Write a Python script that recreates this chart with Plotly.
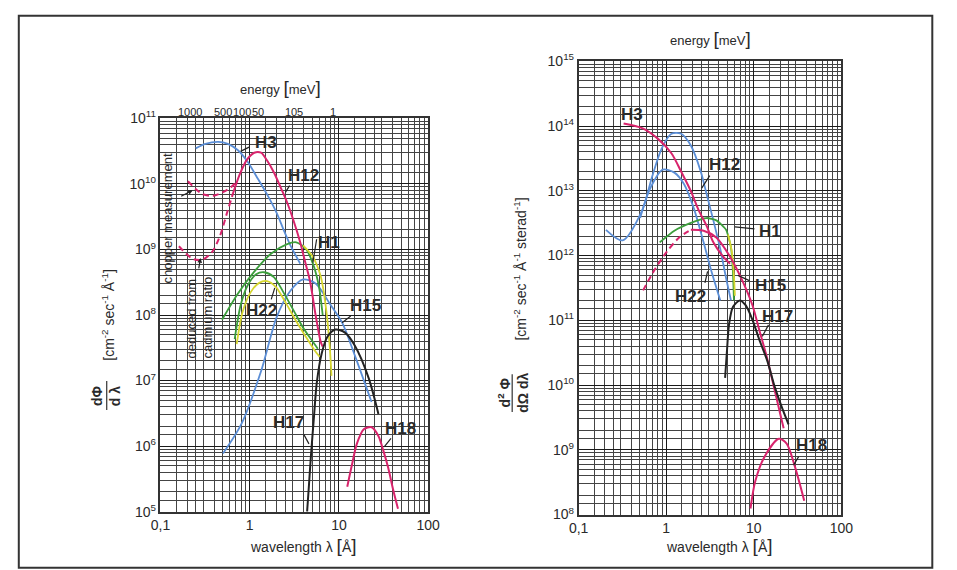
import math
import plotly.graph_objects as go

W, H = 957, 570

# ---------------- LEFT PANEL: flux dPhi/dlambda (wavelength in Angstrom) ----------------
L_H3_lam = [0.248, 0.319, 0.443, 0.570, 0.733, 0.944, 1.21, 1.56, 2.01, 2.40, 2.86, 3.68]
L_H3_val = [3.5e10, 4.1e10, 4.4e10, 4.1e10, 3.3e10, 2.2e10, 1.26e10, 7.0e9, 3.6e9, 2.0e9, 1.16e9, 6.1e8]

L_H12_lam = [0.646, 0.771, 0.921, 1.125, 1.34, 1.56, 1.87, 2.22, 2.59, 3.09, 3.68, 4.18, 4.74, 5.52, 6.25, 6.58]
L_H12_val = [7.0e9, 1.39e10, 2.3e10, 3.0e10, 3.0e10, 2.3e10, 1.5e10, 8.9e9, 5.5e9, 2.8e9, 1.29e9, 6.5e8, 3.3e8, 9.4e7, 3.9e7, 3.3e7]

L_CHOP_lam = [0.203, 0.248, 0.296, 0.390, 0.502, 0.615, 0.733]
L_CHOP_val = [1.10e10, 8.4e9, 7.0e9, 6.6e9, 7.5e9, 8.9e9, 1.13e10]

L_CD_lam = [0.161, 0.230, 0.296, 0.380, 0.466, 0.556, 0.646]
L_CD_val = [1.12e9, 7.2e8, 7.0e8, 9.2e8, 1.63e9, 3.6e9, 7.0e9]

L_H1_lam = [0.490, 0.733, 1.125, 1.73, 2.59, 3.33, 4.29, 5.11, 5.95, 6.58]
L_H1_val = [8.5e7, 2.1e8, 4.6e8, 8.6e8, 1.2e9, 1.29e9, 1.01e9, 6.1e8, 2.8e8, 1.0e8]
L_H1Y_lam = [3.97, 5.11, 6.25, 7.10, 7.85, 8.26]
L_H1Y_val = [1.16e9, 7.7e8, 3.9e8, 1.41e8, 3.6e7, 1.18e7]

L_H22G_lam = [0.679, 0.791, 0.944, 1.183, 1.449, 1.866, 2.40, 3.09, 3.97, 5.11, 5.80]
L_H22G_val = [4.3e7, 1.41e8, 2.8e8, 4.2e8, 4.5e8, 3.8e8, 2.2e8, 1.19e8, 6.4e7, 3.9e7, 3.05e7]
L_H22Y_lam = [0.715, 0.832, 1.018, 1.277, 1.563, 1.959, 2.52, 3.25, 4.29, 5.38, 6.10]
L_H22Y_val = [3.6e7, 1.11e8, 2.2e8, 3.1e8, 3.3e8, 2.7e8, 1.56e8, 8.5e7, 4.6e7, 2.85e7, 2.3e7]

L_H15_lam = [0.502, 0.811, 1.343, 2.01, 2.86, 3.97, 5.52, 7.85, 10.9, 15.1, 23.2]
L_H15_val = [7.7e5, 2.2e6, 1.4e7, 9.4e7, 2.35e8, 3.5e8, 3.0e8, 1.51e8, 7.6e7, 2.4e7, 4.7e6]

L_H17_lam = [4.40, 4.62, 4.86, 5.25, 5.65, 6.41, 7.46, 9.14, 11.7, 15.1, 21.5, 27.7]
L_H17_val = [1.0e5, 2.6e5, 7.2e5, 2.8e6, 9.3e6, 2.6e7, 4.7e7, 6.0e7, 5.4e7, 3.4e7, 1.1e7, 3.1e6]

L_H18_lam = [12.4, 14.0, 15.9, 19.0, 23.2, 27.7, 31.4, 35.6, 40.4, 45.9]
L_H18_val = [2.4e5, 5.2e5, 1.09e6, 1.81e6, 1.94e6, 1.43e6, 8.6e5, 4.7e5, 2.2e5, 1.11e5]

# ---------------- RIGHT PANEL: brightness d2Phi/dOmega dlambda ----------------
R_H3_lam = [0.326, 0.531, 0.800, 1.146, 1.48, 1.91, 2.35, 2.89, 3.45, 4.47, 5.35]
R_H3_val = [1.10e14, 9.3e13, 6.4e13, 3.8e13, 1.98e13, 9.9e12, 5.0e12, 2.88e12, 1.6e12, 9.6e11, 7.5e11]

R_H12_lam = [0.205, 0.318, 0.531, 0.686, 0.887, 1.146, 1.48, 1.91, 2.48, 2.89, 3.45, 4.14, 4.82, 5.48]
R_H12_val = [2.5e12, 1.72e12, 5.0e12, 1.61e13, 4.5e13, 7.6e13, 7.6e13, 5.0e13, 1.98e13, 8.9e12, 3.5e12, 1.26e12, 4.5e11, 2.03e11]

R_H22_lam = [0.504, 0.651, 0.910, 1.239, 1.60, 2.07, 2.67, 3.28, 4.14]
R_H22_val = [3.8e12, 1.06e13, 2.12e13, 1.91e13, 1.26e13, 5.3e12, 1.6e12, 5.7e11, 2.03e11]

R_H1_lam = [0.842, 1.239, 1.91, 2.89, 3.73, 4.82, 5.48, 5.77, 5.93]
R_H1_val = [1.6e12, 2.42e12, 3.2e12, 3.8e12, 3.5e12, 2.5e12, 1.35e12, 5.7e11, 2.03e11]
R_H1Y_lam = [5.08, 5.62, 5.93, 6.08]
R_H1Y_val = [2.11e12, 1.13e12, 4.8e11, 2.4e11]

R_H15D_lam = [0.544, 0.741, 1.007, 1.406, 1.91]
R_H15D_val = [2.9e11, 6.1e11, 1.13e12, 1.9e12, 2.5e12]
R_H15_lam = [1.91, 2.67, 3.73, 5.35, 7.46, 9.64, 11.5, 14.2, 17.0, 20.3, 21.9]
R_H15_val = [2.5e12, 2.42e12, 1.9e12, 9.6e11, 4.0e11, 1.71e11, 7.2e10, 2.58e10, 9.2e9, 3.3e9, 2.16e9]

R_H17_lam = [4.70, 4.95, 5.21, 5.77, 6.91, 8.06, 9.64, 11.5, 14.2, 17.4, 20.8, 24.9]
R_H17_val = [1.29e10, 3.6e10, 8.6e10, 1.6e11, 2.03e11, 1.71e11, 1.02e11, 5.1e10, 2.4e10, 9.2e9, 4.6e9, 2.48e9]

R_H18_lam = [9.16, 10.4, 13.5, 19.3, 23.7, 29.1, 37.6]
R_H18_val = [1.24e8, 3.3e8, 8.2e8, 1.48e9, 1.25e9, 5.8e8, 1.64e8]

# tick labels
X_TICKS = [0.1, 1, 10, 100]
X_TICKTEXT = ["0,1", "1", "10", "100"]
L_Y_EXP = [5, 6, 7, 8, 9, 10, 11]
R_Y_EXP = [8, 9, 10, 11, 12, 13, 14, 15]
ENERGY_MEV = [1000, 500, 100, 50, 10, 5, 1]
ENERGY_LABEL_SHIFT = [-11, 8, -4, -1, 1, -4, -2]   # label nudges (px) as printed in the original

# ---------------- styling ----------------
BLUE = "#5b8ed6"
MAG = "#d8246c"
GREEN = "#3c9e3c"
YEL = "#d6d630"
BLK = "#222222"
FONT = "Liberation Sans"
TXT = "#2a2a2a"

fig = go.Figure()


def add(xa, ya, lam, val, color, dash="solid", width=1.8, smooth=0.8):
    fig.add_trace(go.Scatter(
        x=lam, y=val, mode="lines", xaxis=xa, yaxis=ya,
        line=dict(color=color, width=width, dash=dash, shape="spline", smoothing=smooth),
        showlegend=False, hoverinfo="skip"))


# left
add("x", "y", L_H3_lam, L_H3_val, BLUE)
add("x", "y", L_H15_lam, L_H15_val, BLUE)
add("x", "y", L_H1_lam, L_H1_val, GREEN)
add("x", "y", L_H1Y_lam, L_H1Y_val, YEL)
add("x", "y", L_H22G_lam, L_H22G_val, GREEN)
add("x", "y", L_H22Y_lam, L_H22Y_val, YEL)
add("x", "y", L_H12_lam, L_H12_val, MAG, width=2)
add("x", "y", L_CHOP_lam, L_CHOP_val, MAG, dash="6px,4px", width=2)
add("x", "y", L_CD_lam, L_CD_val, MAG, dash="6px,4px", width=2)
add("x", "y", L_H17_lam, L_H17_val, BLK, width=2)
add("x", "y", L_H18_lam, L_H18_val, MAG, width=2)

# right
add("x2", "y2", R_H12_lam, R_H12_val, BLUE)
add("x2", "y2", R_H22_lam, R_H22_val, BLUE)
add("x2", "y2", R_H1_lam, R_H1_val, GREEN, smooth=0.5)
add("x2", "y2", R_H1Y_lam, R_H1Y_val, YEL)
add("x2", "y2", R_H15D_lam, R_H15D_val, MAG, dash="6px,4px", width=2)
add("x2", "y2", R_H15_lam, R_H15_val, MAG, width=2)
add("x2", "y2", R_H3_lam, R_H3_val, MAG, width=2)
add("x2", "y2", R_H17_lam, R_H17_val, BLK, width=2)
add("x2", "y2", R_H18_lam, R_H18_val, MAG, width=2)

# ---------------- axes ----------------
MINOR_X = [m * 10 ** e for e in range(-1, 2) for m in (1.5, 2, 2.5, 3, 4, 5, 6, 7, 8, 9)]


def minor_y(e0, e1):
    return [m * 10 ** e for e in range(e0, e1) for m in (1.5, 2, 3, 4, 5, 6, 7, 8, 9)]


def px2paper_x(x):
    return x / W


def px2paper_y(y):
    return 1 - y / H


GRID_MIN = dict(showgrid=True, gridcolor="#444", gridwidth=1)
common = dict(type="log", showline=True, mirror=True, linecolor="#333", linewidth=1.5,
              showgrid=True, gridcolor="#1a1a1a", gridwidth=1.4, ticks="", zeroline=False,
              tickfont=dict(family=FONT, size=14, color=TXT))

fig.update_layout(
    width=W, height=H, margin=dict(l=0, r=0, t=0, b=0),
    paper_bgcolor="white", plot_bgcolor="white",
    xaxis=dict(common, domain=[px2paper_x(154), px2paper_x(428)], anchor="y", range=[-1, 2],
               tickvals=X_TICKS, ticktext=X_TICKTEXT, minor=dict(tickvals=MINOR_X, **GRID_MIN)),
    yaxis=dict(common, domain=[px2paper_y(518), px2paper_y(112)], anchor="x",
               range=[L_Y_EXP[0], L_Y_EXP[-1]],
               tickvals=[10 ** e for e in L_Y_EXP], ticktext=["10<sup>%d</sup>" % e for e in L_Y_EXP],
               minor=dict(tickvals=minor_y(L_Y_EXP[0], L_Y_EXP[-1]), **GRID_MIN)),
    xaxis2=dict(common, domain=[px2paper_x(582), px2paper_x(851)], anchor="y2", range=[-1, 2],
                tickvals=X_TICKS, ticktext=X_TICKTEXT, minor=dict(tickvals=MINOR_X, **GRID_MIN)),
    yaxis2=dict(common, domain=[px2paper_y(521), px2paper_y(53)], anchor="x2",
                range=[R_Y_EXP[0], R_Y_EXP[-1]],
                tickvals=[10 ** e for e in R_Y_EXP], ticktext=["10<sup>%d</sup>" % e for e in R_Y_EXP],
                minor=dict(tickvals=minor_y(R_Y_EXP[0], R_Y_EXP[-1]), **GRID_MIN)),
)

# ---------------- text ----------------
ann = []


def text(x, y, s, size=13, bold=False, angle=0, align="center"):
    if bold:
        s = "<b>%s</b>" % s
    ann.append(dict(x=px2paper_x(x), y=px2paper_y(y), xref="paper", yref="paper", text=s,
                    showarrow=False, textangle=angle, align=align,
                    font=dict(family=FONT, size=size, color=TXT), xanchor="center", yanchor="middle"))


def leader(tx, ty, hx, hy, head=0):
    ann.append(dict(x=px2paper_x(hx), y=px2paper_y(hy), xref="paper", yref="paper", text="",
                    showarrow=True, arrowhead=head, arrowsize=0.8, arrowwidth=1.2, arrowcolor="#222",
                    ax=tx - hx, ay=ty - hy))


# energy scale of the left panel: E[meV] = 81.81 / lambda^2
for e, sh in zip(ENERGY_MEV, ENERGY_LABEL_SHIFT):
    lam = (81.81 / e) ** 0.5
    ann.append(dict(x=math.log10(lam), y=px2paper_y(105), xref="x", yref="paper", text=str(e),
                    showarrow=False, xanchor="center", yanchor="middle", xshift=sh,
                    font=dict(family=FONT, size=11, color=TXT)))

BR = "<span style='font-size:19px'>%s</span>"
text(277, 80, "energy " + BR % "[" + "meV" + BR % "]", size=13)
text(717, 29, "energy " + BR % "[" + "meV" + BR % "]", size=13)
text(300, 553, "wavelength λ " + BR % "[" + "Å" + BR % "]", size=14)
text(726, 553, "wavelength λ " + BR % "[" + "Å" + BR % "]", size=14)

# curve labels left
text(262, 137, "H3", 17, True)
leader(246, 141, 236, 146)
text(300, 171, "H12", 17, True)
leader(287, 180, 282, 188)
text(326, 240, "H1", 17, True)
leader(314, 236, 310, 261)
text(257, 310, "H22", 17, True)
leader(267, 300, 271, 287)
text(364, 305, "H15", 17, True)
leader(350, 315, 340, 323)
text(285, 426, "H17", 17, True)
leader(300, 437, 306, 448)
text(400, 432, "H18", 17, True)
leader(391, 441, 383, 451)

# curve labels right
text(637, 108, "H3", 17, True)
text(731, 160, "H12", 17, True)
leader(717, 170, 708, 184)
text(778, 229, "H1", 17, True)
leader(763, 226, 742, 224)
text(697, 296, "H22", 17, True)
leader(711, 283, 714, 270)
text(778, 284, "H15", 17, True)
leader(758, 280, 745, 274)
text(786, 316, "H17", 17, True)
leader(777, 324, 770, 337)
text(820, 450, "H18", 17, True)
leader(808, 460, 802, 470)

# remarks on left panel
text(161, 215, "chopper measurement", 13, angle=-90)
text(194, 318, "deduced from<br>cadmium ratio", 13, angle=-90, align="left")
leader(174, 193, 187, 186, head=2)
leader(193, 268, 195, 256, head=2)

# y titles
text(99, 398, "<b>dΦ</b><br><b>d λ</b>", 14, angle=-90)
text(100, 315, "[cm<sup>-2</sup> sec<sup>-1</sup> Å<sup>-1</sup>]", 14, angle=-90)
text(514, 395, "<b>d<sup>2</sup> Φ</b><br><b>dΩ dλ</b>", 14, angle=-90)
text(522, 268, "[cm<sup>-2</sup> sec<sup>-1</sup> Å<sup>-1</sup> sterad<sup>-1</sup>]", 14, angle=-90)

fig.update_layout(annotations=ann)

# fraction bars and outer frame
shapes = [
    dict(type="line", xref="paper", yref="paper", x0=px2paper_x(99), x1=px2paper_x(99),
         y0=px2paper_y(383), y1=px2paper_y(413), line=dict(color="#333", width=1.2)),
    dict(type="line", xref="paper", yref="paper", x0=px2paper_x(514), x1=px2paper_x(514),
         y0=px2paper_y(376), y1=px2paper_y(415), line=dict(color="#333", width=1.2)),
    dict(type="rect", xref="paper", yref="paper", x0=px2paper_x(9), x1=px2paper_x(944),
         y0=px2paper_y(576), y1=px2paper_y(6), line=dict(color="#333", width=2)),
]
fig.update_layout(shapes=shapes)

fig.write_html("out.html")
